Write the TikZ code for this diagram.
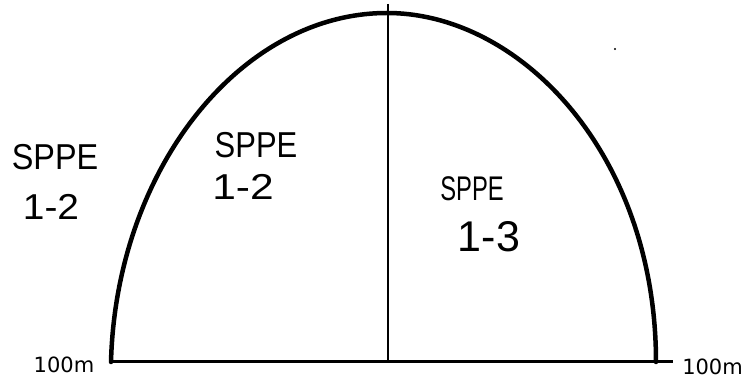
\documentclass[tikz,border=0pt]{standalone}
\usepackage{fontspec}
\setmainfont{Liberation Sans}
\newfontfamily\labelfont{DejaVu Sans}
\begin{document}
\begin{tikzpicture}[x=1pt,y=-1pt,
  hw/.style={inner sep=0pt, font=\fontsize{36}{36}\selectfont},
  dist/.style={inner sep=0pt, font=\labelfont\fontsize{21}{21}\selectfont},
  archline/.style={line width=4.5pt, line cap=round},
  midline/.style={line width=2.3pt},
  baseline/.style={line width=3pt}]
\fill[white] (0,0) rectangle (745,379);
\useasboundingbox (0,0) rectangle (745,379);
% key points
\coordinate (bl) at (111,362);
\coordinate (top) at (387,13);
\coordinate (br) at (656,362);
\coordinate (vtop) at (388,4);
\coordinate (vbot) at (388,362);
\coordinate (bstart) at (111,362);
\coordinate (bend) at (673,362);
% arch
\draw[archline] (bl) .. controls (116,170) and (240,13) .. (top)
  .. controls (521,13) and (656,155) .. (br);
% base and middle lines
\draw[baseline] (bstart) -- (bend);
\draw[midline] (vtop) -- (vbot);
% speck
\fill (615,49) circle (1.1);
% labels
\node[dist] (dl) at (64,365) {100m};
\node[dist, anchor=east] (dr) at (743,367) {100m};
\node[hw, xscale=0.9] (s1) at (55,157) {SPPE};
\node[hw, xscale=1.08] (n1) at (51,207) {1-2};
\node[hw, xscale=0.86] (s2) at (256,145) {SPPE};
\node[hw, xscale=1.18] (n2) at (243,187) {1-2};
\node[hw, xscale=0.66, yscale=0.95] (s3) at (472,189) {SPPE};
\node[hw, font=\fontsize{43}{43}\selectfont] (n3) at (489,237) {1-3};
\end{tikzpicture}
\end{document}
